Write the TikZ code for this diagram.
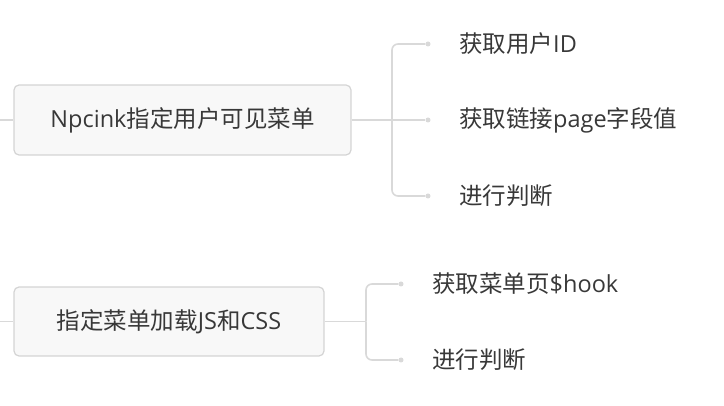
\documentclass[tikz,border=0pt]{standalone}
\usepackage{fontspec}
\setmainfont{Noto Sans CJK SC}
\newfontfamily\latinf{Open Sans}
\usetikzlibrary{positioning}
\definecolor{linec}{HTML}{D9D9D9}
\definecolor{boxc}{HTML}{D4D4D4}
\definecolor{fillc}{HTML}{F8F8F8}
\definecolor{textc}{HTML}{383838}
\begin{document}
\begin{tikzpicture}[x=1pt,y=-1pt,
  topic/.style={draw=boxc,fill=fillc,rounded corners=5pt,line width=1.2pt,inner sep=0pt,font=\fontsize{23.5}{28}\selectfont,text=textc},
  leaf/.style={anchor=west,inner sep=0pt,font=\fontsize{23.5}{28}\selectfont,text=textc},
  conn/.style={draw=linec,line width=1.6pt,rounded corners=6pt},
  dotc/.style={circle,fill=linec,inner sep=0pt,minimum size=5pt}]
\useasboundingbox (0,0) rectangle (724,406);
% topic 1
\node[topic,minimum width=337pt,minimum height=70pt] (t1) at (182.5,120) {{\latinf Npcink}指定用户可见菜单};
\coordinate (in1) at (0,120);
\draw[conn] (in1) -- (t1.west);
\node[dotc] (d11) at (428,44) {};
\node[dotc] (d12) at (428,120) {};
\node[dotc] (d13) at (428,196) {};
\coordinate (j1) at (392,120);
\draw[conn] (t1.east) -- (d12);
\draw[conn] (j1) |- (d11);
\draw[conn] (j1) |- (d13);
\node[leaf] (l11) at (459,44) {获取用户{\latinf ID}};
\node[leaf] (l12) at (459,120) {获取链接{\latinf page}字段值};
\node[leaf] (l13) at (459,196) {进行判断};
% topic 2
\node[topic,minimum width=310pt,minimum height=69pt] (t2) at (169,321.5) {指定菜单加载{\latinf JS}和{\latinf CSS}};
\coordinate (in2) at (0,321.5);
\draw[conn] (in2) -- (t2.west);
\coordinate (j2) at (366,321.5);
\node[dotc] (d21) at (401,284) {};
\node[dotc] (d22) at (401,360) {};
\draw[conn] (t2.east) -- (j2);
\draw[conn] (j2) |- (d21);
\draw[conn] (j2) |- (d22);
\node[leaf] (l21) at (432,284) {获取菜单页{\latinf \$hook}};
\node[leaf] (l22) at (432,360) {进行判断};
\end{tikzpicture}
\end{document}
